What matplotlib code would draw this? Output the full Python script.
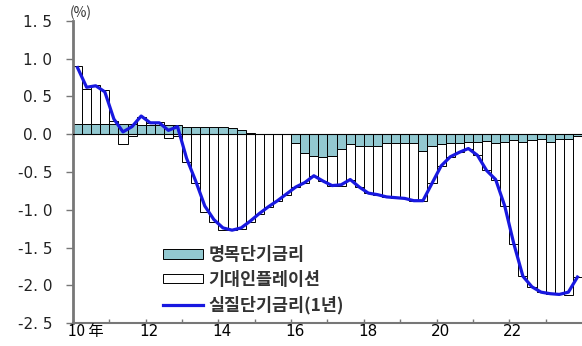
import matplotlib.pyplot as plt
import numpy as np

plt.rcParams['font.family'] = ['Noto Sans CJK KR', 'DejaVu Sans']

# quarterly, 2010Q1 ~ 2023Q4 (%p)
start_year = 2010
nominal = [0.13, 0.13, 0.13, 0.13, 0.13, 0.13, 0.13, 0.12,
           0.12, 0.12, 0.12, 0.12, 0.09, 0.10, 0.10, 0.09,
           0.09, 0.08, 0.05, 0.02, 0.00, 0.00, 0.00, 0.00,
           -0.12, -0.25, -0.29, -0.30, -0.29, -0.19, -0.13, -0.16,
           -0.16, -0.15, -0.12, -0.12, -0.12, -0.12, -0.22, -0.16,
           -0.13, -0.12, -0.12, -0.10, -0.10, -0.09, -0.12, -0.10,
           -0.08, -0.11, -0.08, -0.06, -0.10, -0.07, -0.06, -0.03]
inflation = [0.77, 0.47, 0.52, 0.45, 0.05, -0.13, -0.03, 0.11,
             0.03, 0.04, -0.05, -0.02, -0.37, -0.65, -1.03, -1.16,
             -1.27, -1.27, -1.25, -1.16, -1.05, -0.96, -0.88, -0.80,
             -0.58, -0.39, -0.26, -0.32, -0.39, -0.49, -0.47, -0.54,
             -0.62, -0.65, -0.71, -0.72, -0.73, -0.76, -0.66, -0.49,
             -0.29, -0.18, -0.12, -0.09, -0.18, -0.39, -0.48, -0.85,
             -1.37, -1.77, -1.94, -2.03, -2.01, -2.05, -2.07, -1.86]
real = [0.88, 0.62, 0.64, 0.56, 0.20, 0.03, 0.10, 0.24,
        0.15, 0.15, 0.05, 0.10, -0.32, -0.62, -0.95, -1.13,
        -1.24, -1.27, -1.24, -1.15, -1.05, -0.96, -0.88, -0.79,
        -0.70, -0.64, -0.55, -0.62, -0.68, -0.67, -0.60, -0.70,
        -0.78, -0.80, -0.83, -0.84, -0.85, -0.88, -0.88, -0.65,
        -0.42, -0.30, -0.24, -0.19, -0.28, -0.48, -0.60, -0.95,
        -1.45, -1.88, -2.02, -2.09, -2.11, -2.12, -2.09, -1.89]
year_labels = ['10 年', '12', '14', '16', '18', '20', '22']
labels = ['명목단기금리', '기대인플레이션', '실질단기금리(1년)']

nom = np.array(nominal)
inf = np.array(inflation)
x = start_year + (np.arange(len(nom)) + 0.5) * 0.25
# stack same-sign parts, opposite signs start from zero
bottom = np.where(np.sign(nom) == np.sign(inf), nom, 0)

fig = plt.figure(figsize=(5.82, 3.46), dpi=100)
ax = fig.add_axes([0.1254, 0.066, 0.8746, 0.874])

b1 = ax.bar(x, nom, width=0.25, color='#92c8d0', edgecolor='black', linewidth=0.7,
            label=labels[0], zorder=2)
b2 = ax.bar(x, inf, width=0.25, bottom=bottom, color='white', edgecolor='black',
            linewidth=0.7, label=labels[1], zorder=2)
ax.axhline(0, color='black', linewidth=0.8, zorder=3)
l1, = ax.plot(x, real, color='#1818e0', linewidth=2.3, label=labels[2], zorder=4)

ax.set_xlim(2010, 2024)
ax.set_ylim(-2.5, 1.5)
yt = np.arange(-2.5, 1.51, 0.5)
ax.set_yticks(yt)
ax.set_yticklabels([('%.1f' % v).replace('.', '. ') for v in yt],
                   fontsize=11, family='DejaVu Sans', color='#222222')
ax.tick_params(axis='y', direction='out', length=5, width=1, color='#777777', pad=10)

ax.set_xticks(np.arange(2010, 2024))
ax.set_xticklabels([])
ax.tick_params(axis='x', direction='in', length=3, width=1, color='#777777')
for i, lab in enumerate(year_labels):
    xpos = 2010 + 2 * i
    if i == 0:
        ax.text(xpos - 0.15, -2.61, lab, ha='left', va='center', fontsize=11)
    else:
        ax.text(xpos + 0.1, -2.61, lab, ha='center', va='center', fontsize=11,
                family='DejaVu Sans')

for s in ['top', 'right']:
    ax.spines[s].set_visible(False)
ax.spines['left'].set_color('#777777')
ax.spines['left'].set_linewidth(2)
ax.spines['bottom'].set_color('#777777')
ax.spines['bottom'].set_linewidth(1.5)

fig.text(0.12, 0.962, '(%)', fontsize=10, va='center', color='#333333')

ax.legend([b1, b2, l1], labels, loc='upper left', bbox_to_anchor=(0.177, 0.255),
          frameon=False, prop={'size': 12.5, 'weight': 'bold'},
          handlelength=2.3, handleheight=0.45, handletextpad=0.3,
          labelspacing=0.4, borderpad=0, borderaxespad=0, labelcolor='#333333')

fig.savefig('out.png', dpi=100)
